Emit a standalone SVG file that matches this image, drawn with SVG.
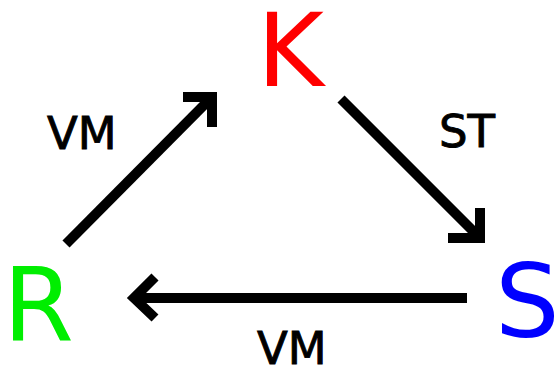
<svg xmlns="http://www.w3.org/2000/svg" width="554" height="367" viewBox="0 0 554 367">
  <style>
    .node { font-family: "DejaVu Sans", "Liberation Sans", sans-serif; font-size: 102px; }
    .label { font-family: "DejaVu Sans", "Liberation Sans", sans-serif; font-size: 45px; fill: #000; stroke: #000; stroke-width: 0.9; }
    .edge { fill: none; stroke: #000; stroke-width: 10; stroke-linecap: butt; stroke-linejoin: miter; }
  </style>
  <rect width="554" height="367" fill="#fff"/>

  <g id="K"><text class="node" x="257" y="86" fill="#ff0000">K</text></g>
  <g id="R"><text class="node" x="3" y="340" fill="#00ee00">R</text></g>
  <g id="S"><text class="node" x="495" y="337" fill="#0000ff">S</text></g>

  <g id="connectors">
    <!-- R to K -->
    <path class="edge" d="M66,244 L212,97"/>
    <path class="edge" d="M183,97 L212,97 L212,127"/>
    <!-- K to S -->
    <path class="edge" d="M341,99 L480,238"/>
    <path class="edge" d="M448,238 L480,238 L480,208"/>
    <!-- S to R -->
    <path class="edge" d="M467,298 L134,298"/>
    <path class="edge" d="M155,277 L134,298 L155,318"/>
  </g>

  <g id="labels">
    <text class="label" x="47" y="149">VM</text>
    <text class="label" x="439" y="147">ST</text>
    <text class="label" x="257" y="364">VM</text>
  </g>
</svg>
